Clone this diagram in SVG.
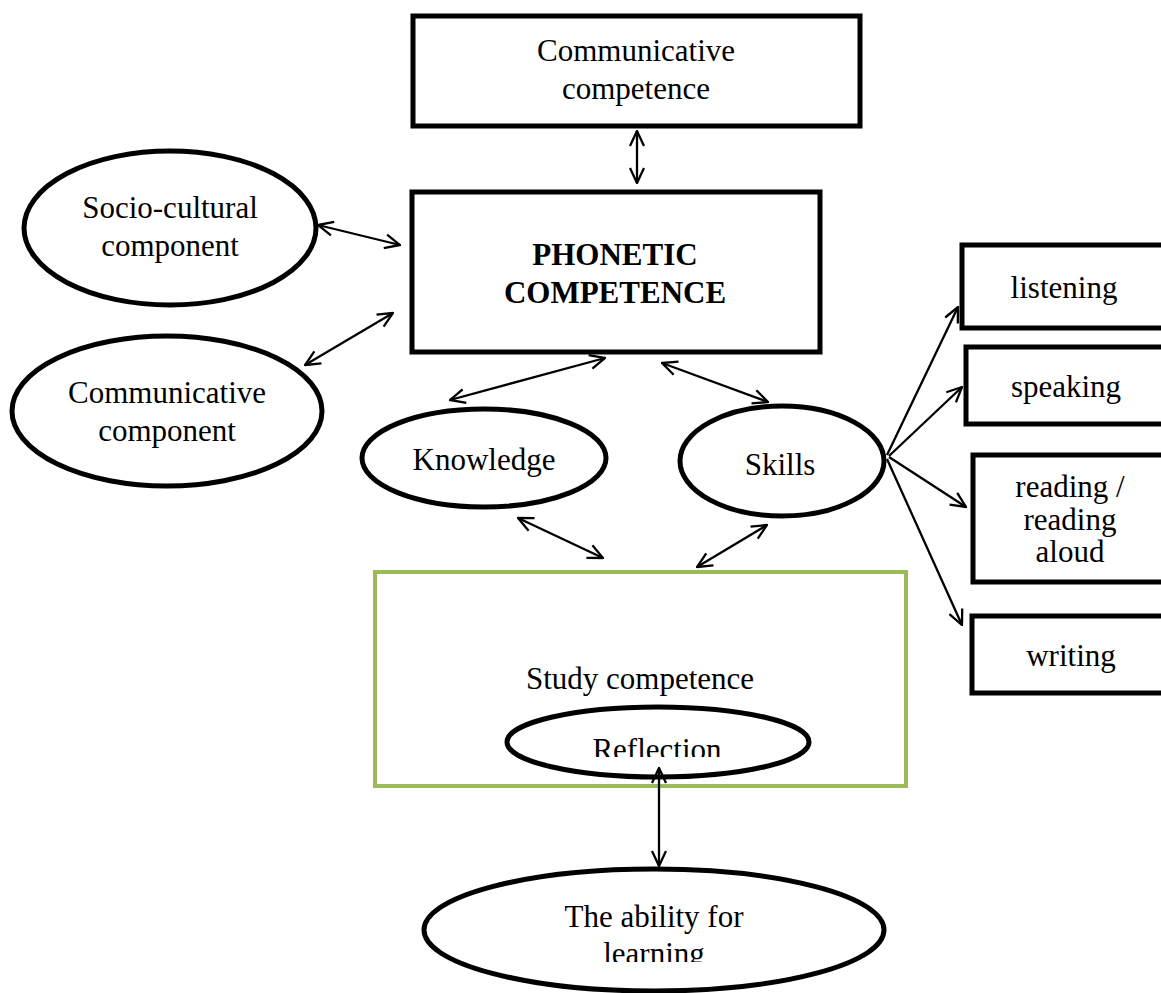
<svg xmlns="http://www.w3.org/2000/svg" width="1161" height="993" viewBox="0 0 1161 993">
<style>
.box{fill:#fff;stroke:#000;stroke-width:5}
.ell{fill:#fff;stroke:#000;stroke-width:5}
.green{fill:#fff;stroke:#9BBB59;stroke-width:4}
.t{font-family:"Liberation Serif","Times New Roman",serif;font-size:31px;fill:#000;text-anchor:middle}
.b{font-weight:bold}
.c{fill:none;stroke:#000;stroke-width:2.3}
</style>
<defs>
<marker id="ah" viewBox="0 0 18 18" refX="17" refY="9" markerWidth="18" markerHeight="18" markerUnits="userSpaceOnUse" orient="auto-start-reverse">
<path d="M2,2 L17,9 L2,16" fill="none" stroke="#000" stroke-width="2.3"/>
</marker>
<clipPath id="clipRef"><rect x="0" y="0" width="1161" height="757"/></clipPath>
<clipPath id="clipLearn"><rect x="0" y="0" width="1161" height="962"/></clipPath>
</defs>
<rect width="1161" height="993" fill="#fff"/>

<g id="communicative-competence">
<rect class="box" x="413" y="16" width="447" height="110"/>
<text class="t" x="636" y="61">Communicative</text>
<text class="t" x="636" y="99">competence</text>
</g>

<g id="phonetic-competence">
<rect class="box" x="412" y="192" width="408" height="160"/>
<text class="t b" x="615" y="265">PHONETIC</text>
<text class="t b" x="615" y="303">COMPETENCE</text>
</g>

<g id="socio-cultural">
<ellipse class="ell" cx="170" cy="228" rx="146" ry="77"/>
<text class="t" x="170" y="218">Socio-cultural</text>
<text class="t" x="170" y="256">component</text>
</g>

<g id="communicative-component">
<ellipse class="ell" cx="167" cy="411" rx="155" ry="75"/>
<text class="t" x="167" y="403">Communicative</text>
<text class="t" x="167" y="441">component</text>
</g>

<g id="knowledge">
<ellipse class="ell" cx="484" cy="458" rx="122" ry="49"/>
<text class="t" x="484" y="470">Knowledge</text>
</g>

<g id="skills">
<ellipse class="ell" cx="782" cy="461" rx="102" ry="55"/>
<text class="t" x="780" y="475">Skills</text>
</g>

<g id="listening">
<rect class="box" x="962" y="245" width="210" height="83"/>
<text class="t" x="1064" y="298">listening</text>
</g>

<g id="speaking">
<rect class="box" x="966" y="347" width="210" height="77"/>
<text class="t" x="1066" y="397">speaking</text>
</g>

<g id="reading">
<rect class="box" x="973" y="455" width="210" height="127"/>
<text class="t" x="1070" y="497">reading /</text>
<text class="t" x="1070" y="530">reading</text>
<text class="t" x="1070" y="562">aloud</text>
</g>

<g id="writing">
<rect class="box" x="972" y="616" width="210" height="77"/>
<text class="t" x="1071" y="666">writing</text>
</g>

<g id="study-competence">
<rect class="green" x="375" y="572" width="531" height="214"/>
<text class="t" x="640" y="689">Study competence</text>
</g>

<g id="reflection">
<ellipse class="ell" cx="658" cy="742" rx="151" ry="35"/>
<text class="t" x="657" y="760" clip-path="url(#clipRef)">Reflection</text>
</g>

<g id="ability-for-learning">
<ellipse class="ell" cx="654" cy="930" rx="230" ry="61"/>
<text class="t" x="654" y="927">The ability for</text>
<text class="t" x="654" y="964" clip-path="url(#clipLearn)">learning</text>
</g>

<g id="connectors">
<line class="c" x1="637" y1="131" x2="637" y2="183" marker-start="url(#ah)" marker-end="url(#ah)"/>
<line class="c" x1="318" y1="225" x2="400" y2="245" marker-start="url(#ah)" marker-end="url(#ah)"/>
<line class="c" x1="305" y1="365" x2="393" y2="313" marker-start="url(#ah)" marker-end="url(#ah)"/>
<line class="c" x1="450" y1="400" x2="605" y2="358" marker-start="url(#ah)" marker-end="url(#ah)"/>
<line class="c" x1="662" y1="363" x2="768" y2="402" marker-start="url(#ah)" marker-end="url(#ah)"/>
<line class="c" x1="518" y1="518" x2="603" y2="558" marker-start="url(#ah)" marker-end="url(#ah)"/>
<line class="c" x1="767" y1="525" x2="697" y2="567" marker-start="url(#ah)" marker-end="url(#ah)"/>
<line class="c" x1="659" y1="768" x2="659" y2="866" marker-start="url(#ah)" marker-end="url(#ah)"/>
<line class="c" x1="887" y1="455" x2="958" y2="307" marker-end="url(#ah)"/>
<line class="c" x1="889" y1="456" x2="962" y2="387" marker-end="url(#ah)"/>
<line class="c" x1="889" y1="457" x2="966" y2="507" marker-end="url(#ah)"/>
<line class="c" x1="887" y1="459" x2="962" y2="625" marker-end="url(#ah)"/>
</g>
</svg>
